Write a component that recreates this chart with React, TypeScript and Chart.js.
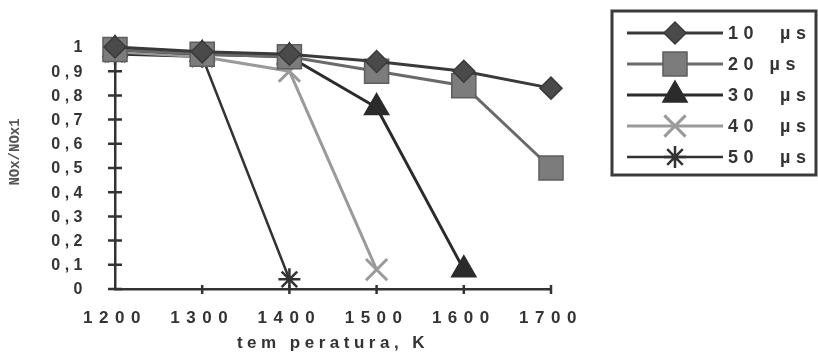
import React, { useEffect, useRef } from 'react';
import { Chart, registerables } from 'chart.js';
import { drawPoint } from 'chart.js/helpers';

Chart.register(...registerables);

// ---- data ----
const temperatures = ['1200', '1300', '1400', '1500', '1600', '1700'];
const seriesNames = ['10  µs', '20 µs', '30  µs', '40  µs', '50  µs'];
const us10 = [1.0, 0.98, 0.97, 0.94, 0.9, 0.83];
const us20 = [0.99, 0.97, 0.96, 0.9, 0.84, 0.5];
const us30 = [0.99, 0.97, 0.96, 0.75, 0.08, null];
const us40 = [0.98, 0.96, 0.9, 0.08, null, null];
const us50 = [0.97, 0.96, 0.04, null, null, null];
const yTickLabels = ['0', '0,1', '0,2', '0,3', '0,4', '0,5', '0,6', '0,7', '0,8', '0,9', '1'];
const yTitle = 'NOx/NOx1';
const xTitle = 'tem peratura, K';

// ---- styles ----
const seriesValues = [us10, us20, us30, us40, us50];
const lineColors = ['#3a3a3a', '#6a6a6a', '#2b2b2b', '#9a9a9a', '#333333'];
const fillColors = ['#4a4a4a', '#7c7c7c', '#2b2b2b', '#9a9a9a', '#333333'];
const markerBorders = ['#3a3a3a', '#5e5e5e', '#2b2b2b', '#9a9a9a', '#333333'];
const markerStyles = ['rectRot', 'rect', 'triangle', 'crossRot', 'star'];
const markerRadii = [11, 17, 14, 15, 11];
const markerBorderWidths = [1.5, 1.5, 1.5, 3, 2.5];
const lineWidths = [3, 3, 3, 3, 2.5];

const SPACING = '4.5px';
const X_TICK_SPACING = '6.5px';
const FONT = '"Liberation Sans", Arial, sans-serif';

const spacingPlugin = {
  id: 'letterSpacing',
  beforeUpdate(c: any) { c.ctx.letterSpacing = SPACING; },
  beforeLayout(c: any) { c.ctx.letterSpacing = SPACING; },
  beforeDraw(c: any) {
    c.ctx.letterSpacing = SPACING;
    const xs = c.scales.x;
    if (xs && !xs.__spaced) {
      const orig = xs.drawLabels;
      xs.drawLabels = function (ca: any) {
        const prev = this.ctx.letterSpacing;
        this.ctx.letterSpacing = X_TICK_SPACING;
        orig.call(this, ca);
        this.ctx.letterSpacing = prev;
      };
      xs.__spaced = true;
    }
  },
};

const decorPlugin = {
  id: 'decor',
  beforeDatasetsDraw(c: any) {
    const ctx = c.ctx;
    const xs = c.scales.x;
    const ys = c.scales.y;
    ctx.save();
    ctx.strokeStyle = '#333';
    ctx.lineWidth = 2.5;
    ctx.beginPath();
    for (let i = 0; i < yTickLabels.length - 1; i++) {
      const py = ys.getPixelForValue(i / 10);
      ctx.moveTo(xs.left - 7, py);
      ctx.lineTo(xs.left + 7, py);
    }
    for (let i = 1; i < temperatures.length; i++) {
      const px = xs.getPixelForValue(i);
      ctx.moveTo(px, ys.bottom - 4);
      ctx.lineTo(px, ys.bottom + 5);
    }
    ctx.stroke();
    ctx.restore();
  },
  afterDraw(c: any) {
    const ctx = c.ctx;
    ctx.save();
    // y title
    ctx.letterSpacing = '0px';
    ctx.font = 'bold 14px "Liberation Mono", monospace';
    ctx.fillStyle = '#555';
    ctx.textAlign = 'center';
    ctx.textBaseline = 'middle';
    ctx.translate(15, 152);
    ctx.rotate(-Math.PI / 2);
    ctx.fillText(yTitle, 0, 0);
    ctx.restore();

    // legend
    ctx.save();
    ctx.fillStyle = '#fff';
    ctx.fillRect(612, 11, 205, 164);
    ctx.strokeStyle = '#3a3a3a';
    ctx.lineWidth = 3;
    ctx.strokeRect(612, 11, 204, 164);
    c.data.datasets.forEach((ds: any, i: number) => {
      const y = 33 + i * 31;
      ctx.strokeStyle = ds.borderColor;
      ctx.lineWidth = ds.borderWidth;
      ctx.beginPath();
      ctx.moveTo(627, y);
      ctx.lineTo(723, y);
      ctx.stroke();
      ctx.fillStyle = ds.pointBackgroundColor;
      ctx.strokeStyle = ds.pointBorderColor;
      ctx.lineWidth = ds.pointBorderWidth;
      drawPoint(ctx, {
        pointStyle: ds.pointStyle,
        radius: ds.pointRadius,
        rotation: 0,
        borderWidth: ds.pointBorderWidth,
      } as any, 675, y);
      ctx.letterSpacing = '5.5px';
      ctx.font = 'bold 18px ' + FONT;
      ctx.fillStyle = '#333';
      ctx.textAlign = 'left';
      ctx.textBaseline = 'middle';
      ctx.fillText(ds.label, 728, y + 1);
    });
    ctx.restore();
  },
};

export default function App() {
  const ref = useRef<HTMLCanvasElement>(null);
  useEffect(() => {
    document.body.style.margin = '0';
    const canvas = ref.current!;
    const chart = new Chart(canvas, {
      type: 'line',
      data: {
        labels: temperatures,
        datasets: seriesValues.map((vals, i) => ({
          label: seriesNames[i],
          data: vals,
          borderColor: lineColors[i],
          borderWidth: lineWidths[i],
          backgroundColor: fillColors[i],
          pointBackgroundColor: fillColors[i],
          pointBorderColor: markerBorders[i],
          pointBorderWidth: markerBorderWidths[i],
          pointStyle: markerStyles[i],
          pointRadius: markerRadii[i],
          pointHoverRadius: markerRadii[i],
          tension: 0,
          fill: false,
          clip: false,
          spanGaps: false,
        })) as any,
      },
      options: {
        animation: false,
        responsive: false,
        devicePixelRatio: 1,
        layout: { padding: { top: 47, right: 267, left: 0, bottom: 0 } },
        plugins: {
          legend: { display: false },
          tooltip: { enabled: false },
        },
        scales: {
          x: {
            type: 'category',
            offset: false,
            grid: { display: false },
            border: { display: true, color: '#333', width: 2.5 },
            ticks: {
              color: '#333',
              font: { family: FONT, size: 17, weight: 'bold' },
              padding: 11,
              maxRotation: 0,
              autoSkip: false,
            },
            title: {
              display: true,
              text: xTitle,
              color: '#333',
              font: { family: FONT, size: 17, weight: 'bold' },
              padding: { top: 0, bottom: 5 },
            },
            afterFit(s: any) { s.height = 70; },
          },
          y: {
            min: 0,
            max: 1,
            grid: { display: false },
            border: { display: true, color: '#333', width: 2.5 },
            ticks: {
              stepSize: 0.1,
              color: '#333',
              font: { family: FONT, size: 16, weight: 'bold' },
              padding: 20,
              labelOffset: 1,
              callback: (_v: any, idx: number) => yTickLabels[idx],
            },
            afterFit(s: any) { s.width = 115; },
          },
        },
      } as any,
      plugins: [spacingPlugin, decorPlugin],
    });
    return () => chart.destroy();
  }, []);
  return (
    <div style={{ width: 818, height: 359 }}>
      <canvas ref={ref} width={818} height={359} style={{ display: 'block' }} />
    </div>
  );
}
